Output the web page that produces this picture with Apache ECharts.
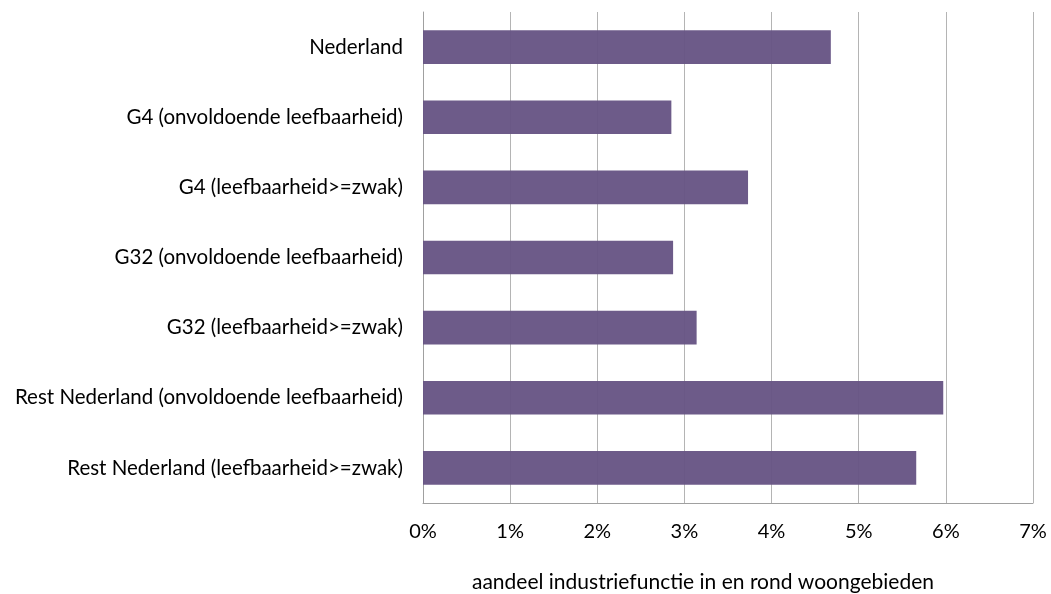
<!DOCTYPE html>
<html>
<head>
<meta charset="utf-8">
<script src="https://cdn.jsdelivr.net/npm/echarts@6/dist/echarts.min.js"></script>
<style>
  html, body { margin: 0; padding: 0; background: #fff; }
  #chart { width: 1051px; height: 594px; }
</style>
</head>
<body>
<div id="chart"></div>
<script>
// categories, top to bottom
const categories = [
  'Nederland',
  'G4 (onvoldoende leefbaarheid)',
  'G4 (leefbaarheid>=zwak)',
  'G32 (onvoldoende leefbaarheid)',
  'G32 (leefbaarheid>=zwak)',
  'Rest Nederland (onvoldoende leefbaarheid)',
  'Rest Nederland (leefbaarheid>=zwak)'
]
// aandeel in procenten
const values = [4.68, 2.85, 3.73, 2.87, 3.14, 5.97, 5.66]
const xTicks = [0, 1, 2, 3, 4, 5, 6, 7]
const axisTitle = 'aandeel industriefunctie in en rond woongebieden'

const font = 'Lato, "Open Sans", sans-serif'
const chart = echarts.init(document.getElementById('chart'))

chart.setOption({
  animation: false,
  grid: {
    left: 423,
    right: 18,
    top: 12,
    bottom: 91,
    containLabel: false,
    outerBoundsMode: 'none'
  },
  xAxis: {
    type: 'value',
    min: xTicks[0],
    max: xTicks[xTicks.length - 1],
    interval: 1,
    name: axisTitle,
    nameLocation: 'middle',
    nameGap: 69,
    nameTextStyle: { color: '#000', fontSize: 21, fontFamily: font, padding: [0, 50, 0, 0] },
    axisLine: { show: true, lineStyle: { color: '#a0a0a0', width: 1 } },
    axisTick: { show: false },
    axisLabel: {
      color: '#000',
      fontSize: 20,
      fontFamily: font,
      margin: 19,
      formatter: v => v + '%'
    },
    splitLine: { show: true, lineStyle: { color: '#b4b4b4', width: 1 } }
  },
  yAxis: {
    type: 'category',
    data: categories,
    inverse: true,
    axisLine: { show: true, lineStyle: { color: '#a0a0a0', width: 1 } },
    axisTick: { show: false },
    axisLabel: {
      color: '#000',
      fontSize: 20.5,
      fontFamily: font,
      margin: 20
    }
  },
  series: [
    {
      type: 'bar',
      data: values,
      barWidth: '48%',
      itemStyle: { color: '#675484', opacity: 0.96 }
    }
  ]
})
</script>
</body>
</html>
